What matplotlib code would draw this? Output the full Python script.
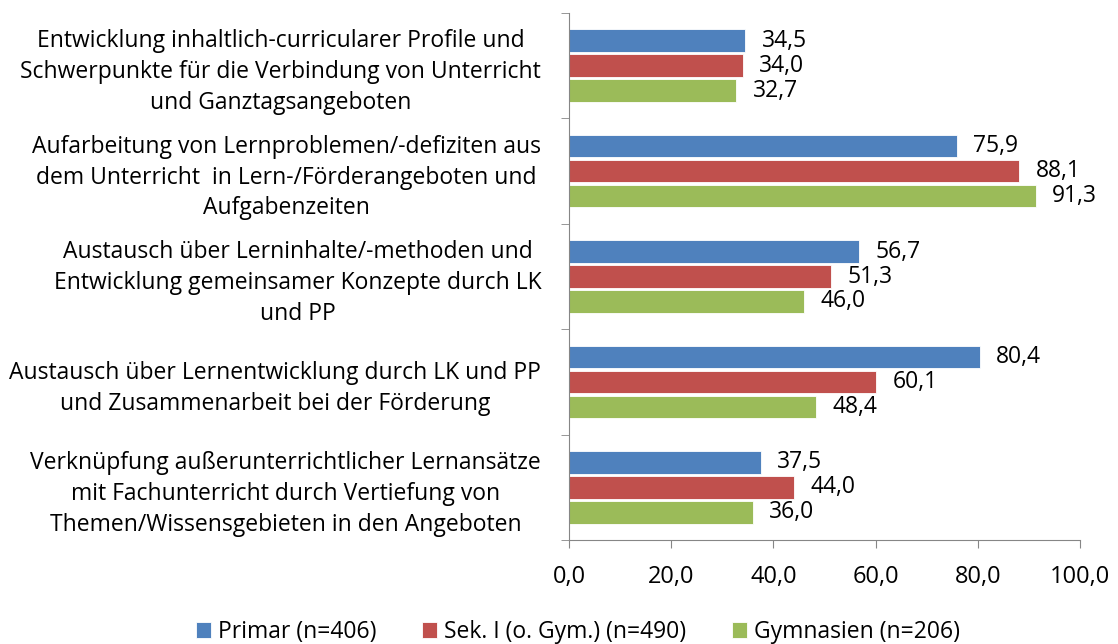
import numpy as np
import matplotlib.pyplot as plt

plt.rcParams['font.family'] = ['Open Sans', 'DejaVu Sans']

# categories, top to bottom
categories = [
    "Entwicklung inhaltlich-curricularer Profile und\nSchwerpunkte für die Verbindung von Unterricht\nund Ganztagsangeboten",
    "Aufarbeitung von Lernproblemen/-defiziten aus\ndem Unterricht  in Lern-/Förderangeboten und\nAufgabenzeiten",
    "Austausch über Lerninhalte/-methoden und\nEntwicklung gemeinsamer Konzepte durch LK\nund PP",
    "Austausch über Lernentwicklung durch LK und PP\nund Zusammenarbeit bei der Förderung",
    "Verknüpfung außerunterrichtlicher Lernansätze\nmit Fachunterricht durch Vertiefung von\nThemen/Wissensgebieten in den Angeboten",
]
series_names = ["Primar (n=406)", "Sek. I (o. Gym.) (n=490)", "Gymnasien (n=206)"]
primar = [34.5, 75.9, 56.7, 80.4, 37.5]
sek1 = [34.0, 88.1, 51.3, 60.1, 44.0]
gym = [32.7, 91.3, 46.0, 48.4, 36.0]
colors = ["#4F81BD", "#C0504D", "#9BBB59"]

fs = 16.5

fig = plt.figure(figsize=(11.18, 6.44), dpi=100)
ax = fig.add_axes([569 / 1118, 1 - 540 / 644, (1080 - 569) / 1118, (540 - 13) / 644])

n = len(categories)
y = np.arange(n)[::-1].astype(float)  # first category at top
h = 0.215
step = 0.237
for i, (vals, col, name) in enumerate(zip([primar, sek1, gym], colors, series_names)):
    yy = y + step * (1 - i)
    ax.barh(yy, vals, height=h, color=col, edgecolor="white", linewidth=0.6, label=name)
    for v, yv in zip(vals, yy):
        ax.text(v + 3.2, yv, f"{v:.1f}".replace(".", ","), va="center", ha="left", fontsize=fs)

ax.set_xlim(0, 100)
ax.set_ylim(-0.5, n - 0.5)
ax.set_xticks(np.arange(0, 101, 20))
ax.set_xticklabels([f"{t:.1f}".replace(".", ",") for t in np.arange(0, 101, 20)], fontsize=fs + 0.5)
ax.set_yticks(y)
ax.set_yticklabels(categories, fontsize=fs, multialignment="center", linespacing=1.38)
ax.tick_params(axis="y", length=0, pad=20)
ax.set_yticks(np.arange(-0.5, n, 1.0), minor=True)
ax.tick_params(axis="y", which="minor", length=6, color="#868686", direction="out")
ax.tick_params(axis="x", length=6, color="#868686", direction="out", pad=12)

for s in ["top", "right"]:
    ax.spines[s].set_visible(False)
for s in ["left", "bottom"]:
    ax.spines[s].set_color("#868686")

leg = fig.legend(loc="center", bbox_to_anchor=(578 / 1118, 1 - 632 / 644), ncol=3, frameon=False,
                 fontsize=fs, handlelength=0.65, handleheight=0.65, columnspacing=2.0, handletextpad=0.3)

fig.savefig("out.png", dpi=100)
